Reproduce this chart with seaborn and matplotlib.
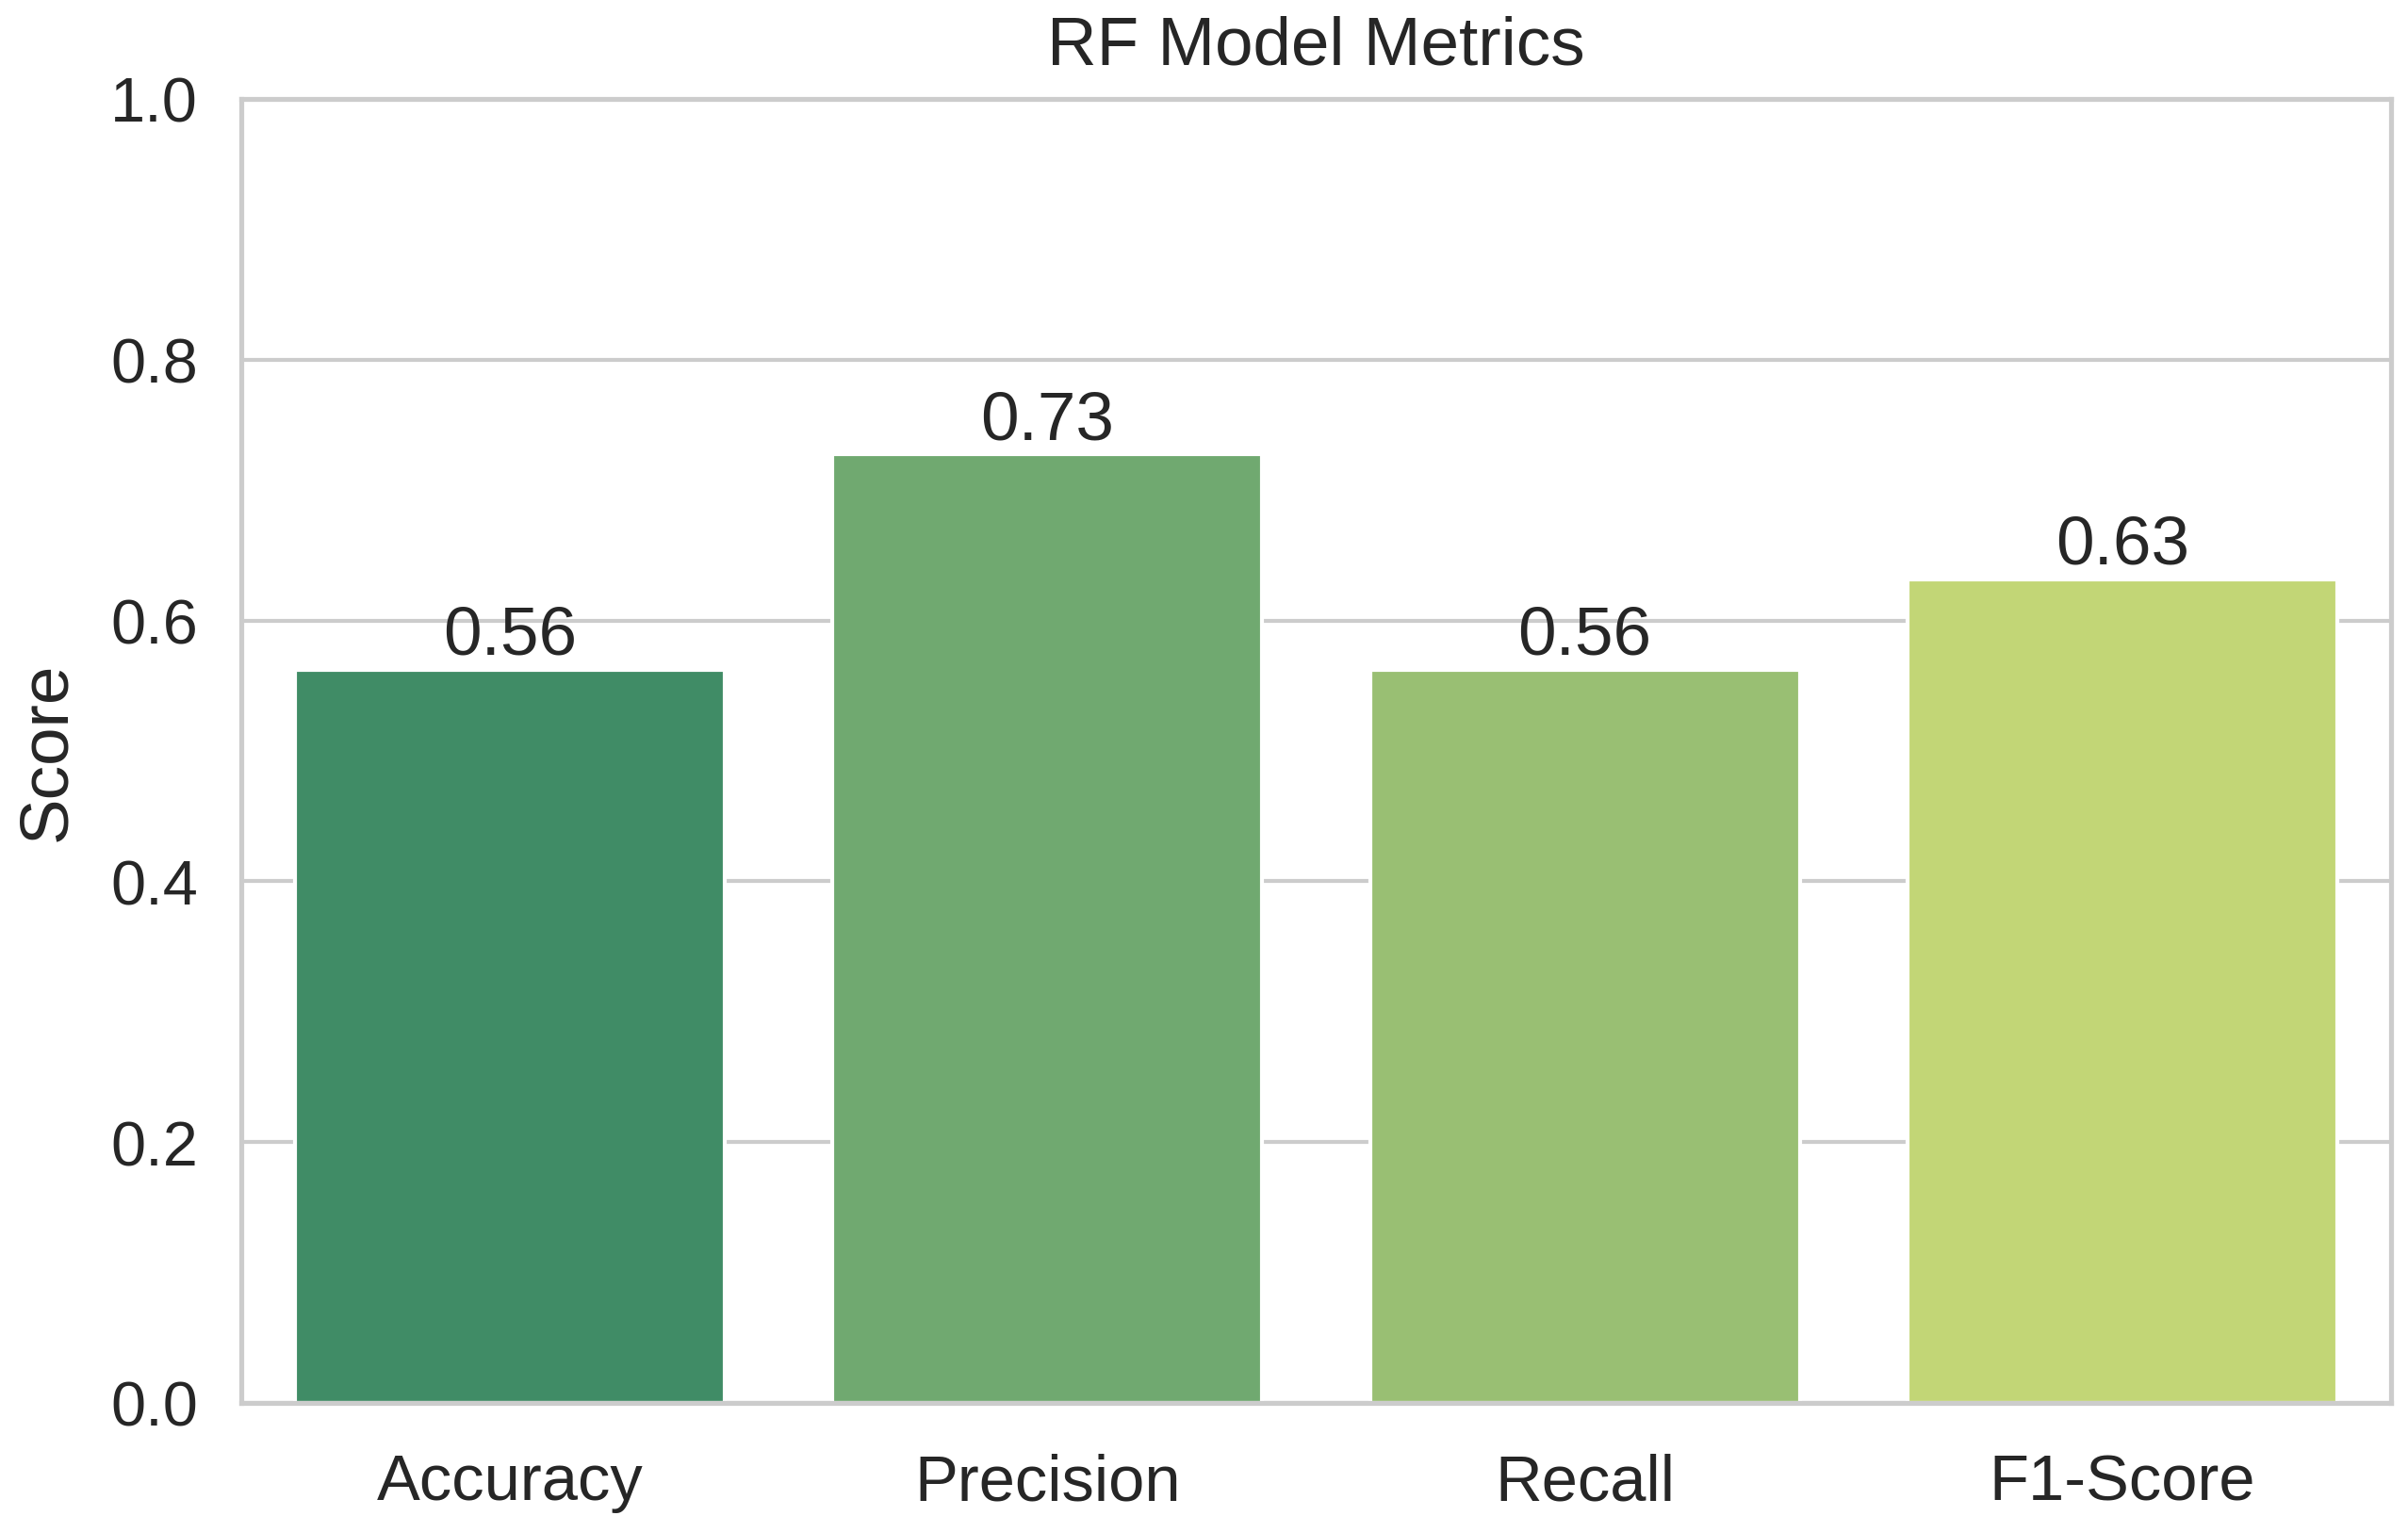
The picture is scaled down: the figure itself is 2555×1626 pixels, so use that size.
import matplotlib
matplotlib.use("Agg")
import matplotlib.pyplot as plt
import seaborn as sns
import pandas as pd

metrics = ["Accuracy", "Precision", "Recall", "F1-Score"]
scores = [0.5625, 0.7273, 0.5625, 0.6316]

sns.set_theme(style="whitegrid")
plt.rcParams['font.family'] = ['Liberation Sans', 'DejaVu Sans']

df = pd.DataFrame({"Metric": metrics, "Score": scores})

fig = plt.figure(figsize=(2555/300, 1627/300), dpi=300)
ax = fig.add_axes([256/2555, 1-1490/1627, (2537-256)/2555, (1490-106)/1627])
sns.barplot(data=df, x="Metric", y="Score", hue="Metric", palette="summer", legend=False, ax=ax)
for c in ax.containers:
    ax.bar_label(c, fmt="%.2f", fontsize=17.5, padding=0.5, color="#262626")
ax.set_ylim(0, 1.0)
ax.set_xlabel("")
ax.set_ylabel("Score", fontsize=17.5, labelpad=8)
ax.set_title("RF Model Metrics", fontsize=17.5, pad=9)
ax.tick_params(axis="y", labelsize=16, pad=5)
ax.tick_params(axis="x", labelsize=16.5, pad=6.5)
fig.savefig("out.png", dpi=300)
